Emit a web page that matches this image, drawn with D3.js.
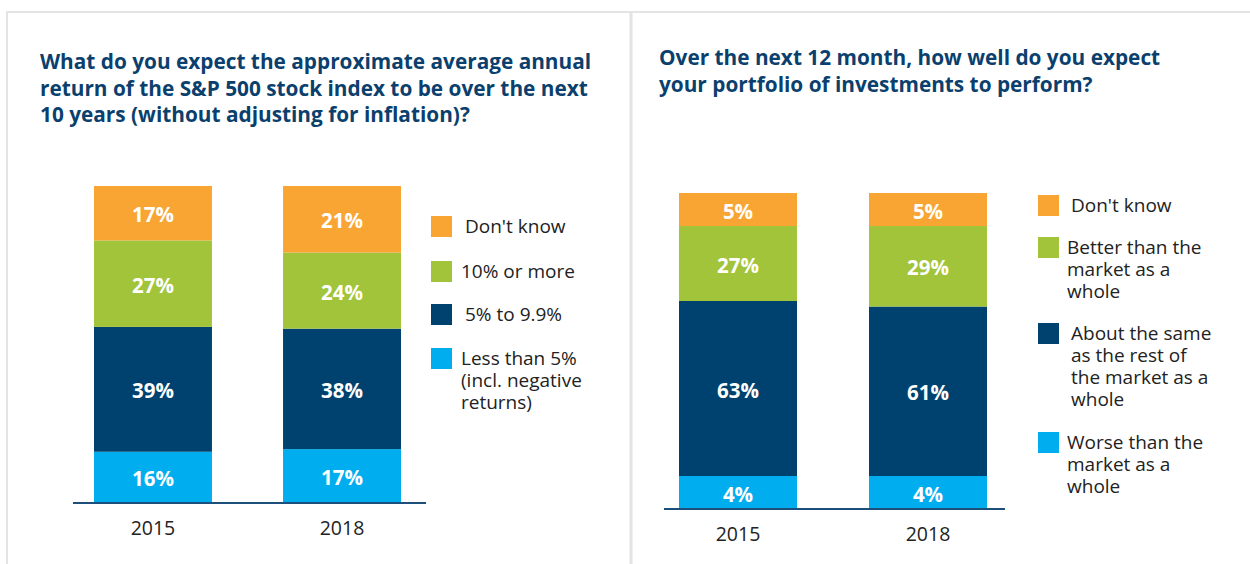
<!DOCTYPE html>
<html>
<head>
<meta charset="utf-8">
<script src="https://cdn.jsdelivr.net/npm/d3@7"></script>
<style>
  html, body { margin: 0; padding: 0; background: #fff; }
  .title { font-family: "Open Sans", sans-serif; font-weight: 700; fill: #0b3f6d; }
  .seg-label { font-family: "Open Sans", sans-serif; font-weight: 700; fill: #fff; }
  .year { font-family: "Open Sans", sans-serif; fill: #222; }
  .legend text { font-family: "Open Sans", sans-serif; fill: #222; }
</style>
</head>
<body>
<div id="chart"></div>
<script>
// survey panels: S&P 500 return expectation + portfolio expectation
const years = ["2015", "2018"];

const colors = {
  dontKnow: "#f9a533",
  high: "#a1c43a",
  mid: "#00426f",
  low: "#00aeef"
};

// left panel
const leftLess5 = [16, 17];
const left5to9 = [39, 38];
const left10plus = [27, 24];
const leftDontKnow = [17, 21];
const leftLegend = [
  ["Don't know"],
  ["10% or more"],
  ["5% to 9.9%"],
  ["Less than 5%", "(incl. negative", "returns)"]
];
const leftTitle = [
  "What do you expect the approximate average annual",
  "return of the S&P 500 stock index to be over the next",
  "10 years (without adjusting for inflation)?"
];

// right panel
const rightWorse = [4, 4];
const rightSame = [63, 61];
const rightBetter = [27, 29];
const rightDontKnow = [5, 5];
const rightLegend = [
  ["Don't know"],
  ["Better than the", "market as a", "whole"],
  ["About the same", "as the rest of", "the market as a", "whole"],
  ["Worse than the", "market as a", "whole"]
];
const rightTitle = [
  "Over the next 12 month, how well do you expect",
  "your portfolio of investments to perform?"
];

const width = 1250;
const height = 564;

const svg = d3.select("#chart")
  .append("svg")
  .attr("width", width)
  .attr("height", height)
  .attr("viewBox", `0 0 ${width} ${height}`);

// frame lines
const frame = svg.append("g").attr("stroke", "#e4e4e4").attr("fill", "none");
frame.append("line").attr("x1", 6).attr("x2", width).attr("y1", 12).attr("y2", 12).attr("stroke-width", 2);
frame.append("line").attr("x1", 7).attr("x2", 7).attr("y1", 12).attr("y2", height).attr("stroke-width", 2);
frame.append("line").attr("x1", 631).attr("x2", 631).attr("y1", 12).attr("y2", height).attr("stroke-width", 3);

// stack with a floor on segment height so small shares keep room for a label
function stackBars(rows, keys, H, minH) {
  return rows.map((row) => {
    const vals = keys.map((k) => row[k]);
    let fixed = vals.map(() => false);
    let k = 0;
    for (let it = 0; it < 5; it++) {
      const free = d3.sum(vals.filter((v, i) => !fixed[i]));
      const nFixed = fixed.filter(Boolean).length;
      k = (H - nFixed * minH) / free;
      fixed = vals.map((v) => v * k < minH);
    }
    const hs = vals.map((v, i) => (fixed[i] ? minH : v * k));
    let acc = 0;
    return keys.map((key, i) => {
      const seg = { key, year: row.year, value: row[key], y0: acc, y1: acc + hs[i] };
      acc += hs[i];
      return seg;
    });
  });
}

function drawPanel(opts) {
  const g = svg.append("g");

  g.append("text")
    .attr("class", "title")
    .attr("font-size", 20.8)
    .selectAll("tspan")
    .data(opts.title)
    .join("tspan")
    .attr("x", opts.titleX)
    .attr("y", (d, i) => opts.titleY + i * 26.5)
    .text((d) => d);

  const keys = ["low", "mid", "high", "dontKnow"];
  const rows = years.map((yr, i) => ({
    year: yr,
    low: opts.series[0][i],
    mid: opts.series[1][i],
    high: opts.series[2][i],
    dontKnow: opts.series[3][i]
  }));

  const barH = opts.baseY - opts.topY;
  const segs = stackBars(rows, keys, barH, opts.minH).flat();

  const x = d3.scaleBand()
    .domain(years)
    .range(opts.xRange)
    .paddingInner(opts.pad)
    .paddingOuter(0);

  const y = d3.scaleLinear().domain([0, barH]).range([opts.baseY, opts.topY]);

  g.append("g")
    .selectAll("rect")
    .data(segs)
    .join("rect")
    .attr("fill", (d) => colors[d.key])
    .attr("x", (d) => x(d.year))
    .attr("width", x.bandwidth())
    .attr("y", (d) => y(d.y1))
    .attr("height", (d) => y(d.y0) - y(d.y1));

  g.append("g")
    .selectAll("text")
    .data(segs)
    .join("text")
    .attr("class", "seg-label")
    .attr("font-size", 20.5)
    .attr("text-anchor", "middle")
    .attr("dominant-baseline", "central")
    .attr("x", (d) => x(d.year) + x.bandwidth() / 2)
    .attr("y", (d) => (y(d.y0) + y(d.y1)) / 2 + 1)
    .text((d) => d.value + "%");

  // baseline
  g.append("line")
    .attr("x1", opts.xRange[0] - opts.axisExt[0])
    .attr("x2", opts.xRange[1] + opts.axisExt[1])
    .attr("y1", opts.baseY)
    .attr("y2", opts.baseY)
    .attr("stroke", "#1d4f7c")
    .attr("stroke-width", 2);

  g.append("g")
    .selectAll("text")
    .data(years)
    .join("text")
    .attr("class", "year")
    .attr("font-size", 19.5)
    .attr("text-anchor", "middle")
    .attr("x", (d) => x(d) + x.bandwidth() / 2)
    .attr("y", opts.yearY)
    .text((d) => d);

  // legend (top to bottom: don't know first)
  const legendKeys = ["dontKnow", "high", "mid", "low"];
  const lg = g.append("g").attr("class", "legend");
  legendKeys.forEach((k, i) => {
    const top = opts.legendY[i];
    lg.append("rect")
      .attr("x", opts.legendX)
      .attr("y", top)
      .attr("width", 21)
      .attr("height", 21)
      .attr("fill", colors[k]);
    lg.append("text")
      .attr("font-size", 19)
      .selectAll("tspan")
      .data(opts.legend[i])
      .join("tspan")
      .attr("x", opts.legendX + opts.legendTextDx[i])
      .attr("y", (d, j) => top + 17 + j * opts.legendLine)
      .text((d) => d);
  });
}

drawPanel({
  title: leftTitle,
  titleX: 40,
  titleY: 69,
  series: [leftLess5, left5to9, left10plus, leftDontKnow],
  xRange: [94, 401],
  pad: 0.376,
  topY: 186,
  baseY: 503,
  minH: 0,
  axisExt: [21, 25],
  yearY: 535,
  legend: leftLegend,
  legendX: 431,
  legendY: [216, 261, 304, 348],
  legendTextDx: [34, 30, 34, 30],
  legendLine: 22
});

drawPanel({
  title: rightTitle,
  titleX: 659,
  titleY: 65,
  series: [rightWorse, rightSame, rightBetter, rightDontKnow],
  xRange: [679, 987],
  pad: 0.379,
  topY: 193,
  baseY: 509,
  minH: 33,
  axisExt: [15, 18],
  yearY: 541,
  legend: rightLegend,
  legendX: 1038,
  legendY: [195, 237, 323, 432],
  legendTextDx: [33, 29, 33, 29],
  legendLine: 22
});
</script>
</body>
</html>
